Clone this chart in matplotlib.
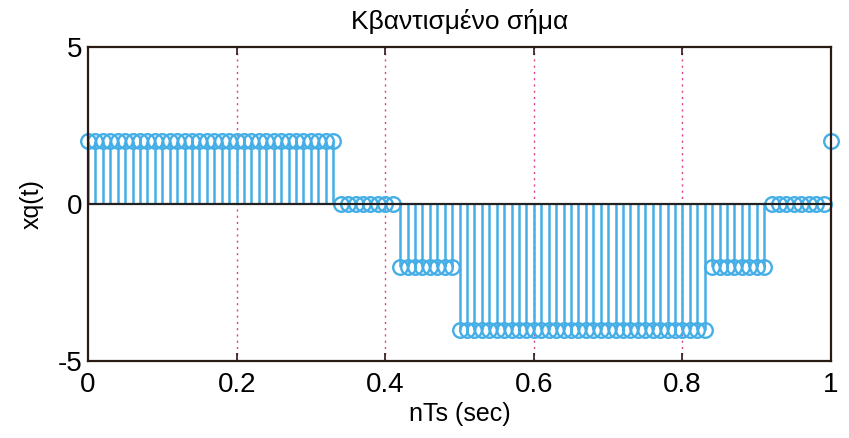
import matplotlib
matplotlib.use("Agg")
import matplotlib.pyplot as plt
import numpy as np

# Quantized signal (Ts = 0.01 s, n = 0..100)
Ts = 0.01
xq = [2] * 34 + [0] * 8 + [-2] * 8 + [-4] * 34 + [-2] * 8 + [0] * 8 + [2]
x_ticks = [0, 0.2, 0.4, 0.6, 0.8, 1]
x_tick_labels = ["0", "0.2", "0.4", "0.6", "0.8", "1"]
y_ticks = [-5, 0, 5]

plt.rcParams['font.family'] = ['Liberation Sans', 'DejaVu Sans']
plt.rcParams['axes.unicode_minus'] = False

nTs = np.arange(len(xq)) * Ts

fig = plt.figure(figsize=(8.49, 4.38), dpi=100)
ax = fig.add_axes([0.1037, 0.1758, 0.8751, 0.7169])

stem_color = '#45aee6'
markerline, stemlines, baseline = ax.stem(nTs, xq, basefmt='k-')
plt.setp(stemlines, color=stem_color, linewidth=1.8)
plt.setp(markerline, marker='o', markersize=10.5, markerfacecolor='none',
         markeredgecolor=stem_color, markeredgewidth=1.7)
plt.setp(baseline, color='#222222', linewidth=1.6)
markerline.set_clip_on(False)

ax.set_xlim(0, 1)
ax.set_ylim(-5, 5)
ax.set_xticks(x_ticks)
ax.set_xticklabels(x_tick_labels)
ax.set_yticks(y_ticks)

# vertical dotted grid only
for xv in x_ticks[1:-1]:
    ax.axvline(xv, color='#d9408f', linestyle=(0, (1.5, 3)), linewidth=1.0, zorder=0)

for sp in ax.spines.values():
    sp.set_color('#2a1a14')
    sp.set_linewidth(1.6)

ax.tick_params(direction='in', top=True, right=True, length=6, width=1.2,
               labelsize=20, color='#2a1a14')
ax.tick_params(axis='x', pad=8)
ax.tick_params(axis='y', pad=4)

ax.set_title('Κβαντισμένο σήμα', fontsize=19, pad=13)
ax.set_xlabel('nTs (sec)', fontsize=18, labelpad=3)
ax.set_ylabel('xq(t)', fontsize=18, labelpad=10)

fig.savefig('out.png', dpi=100)
